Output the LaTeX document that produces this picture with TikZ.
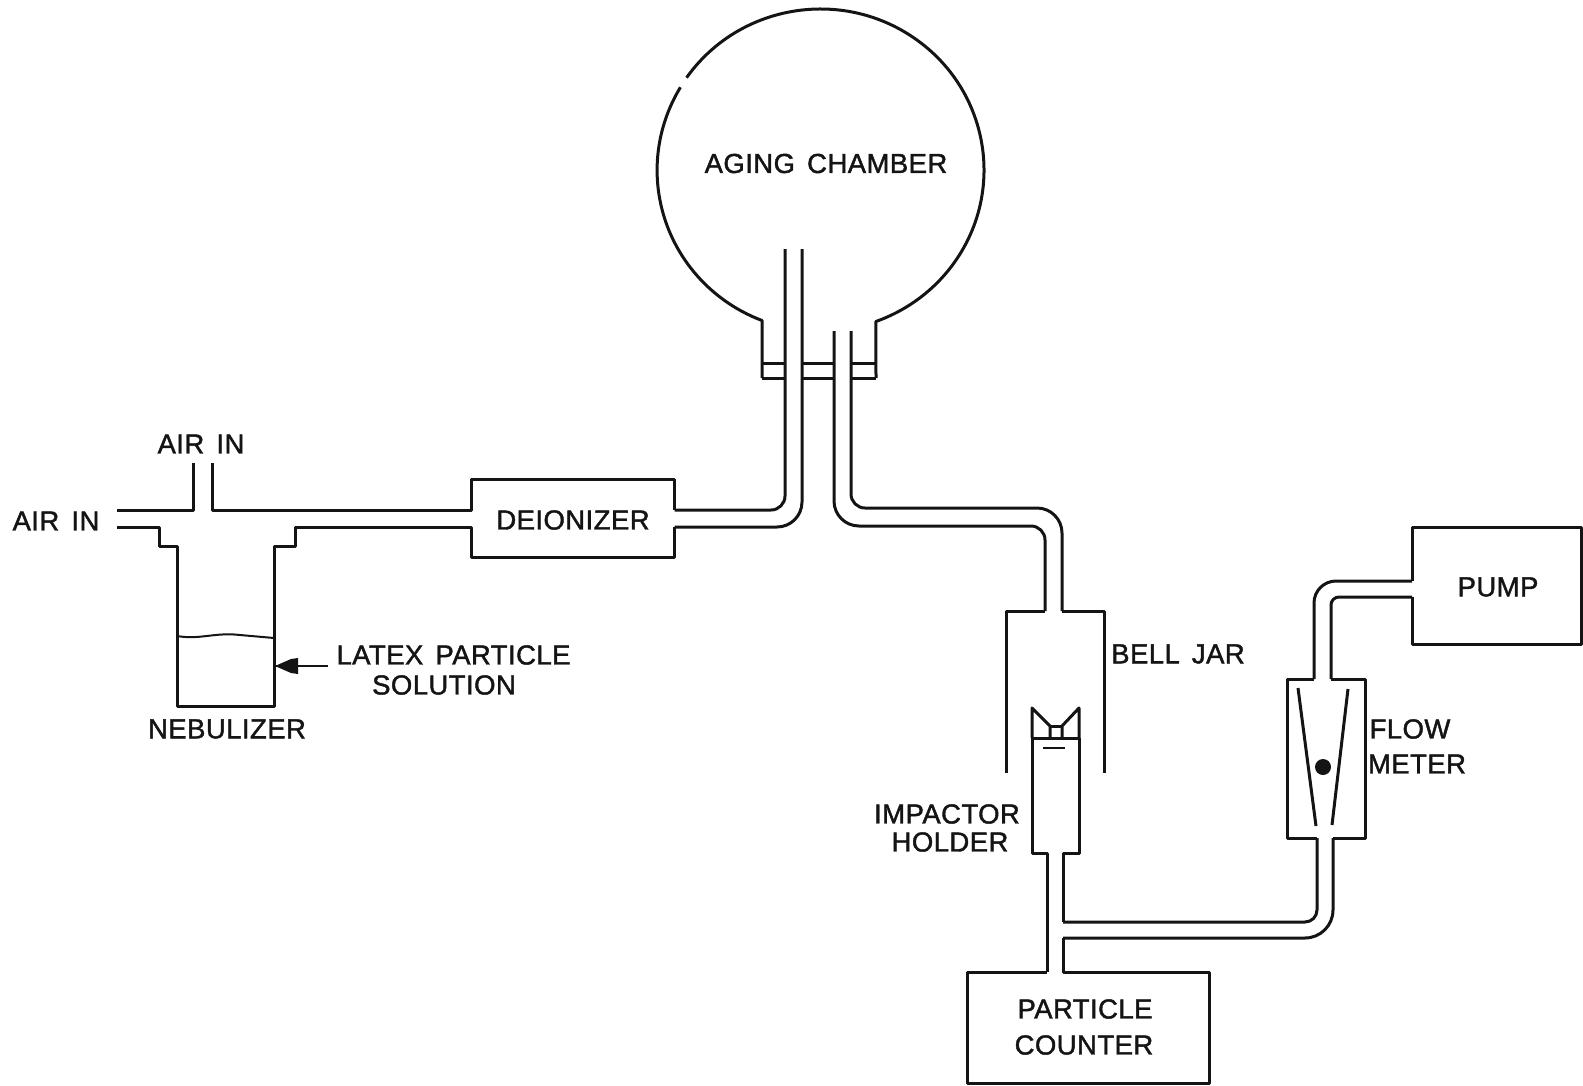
\documentclass[tikz,border=0pt]{standalone}
\usepackage{fontspec}
\newfontfamily\partfont{Liberation Sans}[FakeBold=1.5,LetterSpace=1.6,WordSpace=1.5]
\definecolor{ApparatusInk}{HTML}{141414}
\tikzset{
  pipe/.style={ApparatusInk,line width=3pt,line join=round},
  partlabel/.style={text=ApparatusInk,inner sep=0pt,font=\partfont\fontsize{27.5}{30}\selectfont}
}
\begin{document}
\begin{tikzpicture}[x=1pt,y=-1pt]
  \useasboundingbox (0,0) rectangle (1583,1085);
  % chamber, neck and flange
  \draw[pipe] (762,378) -- (762,320.5) arc[start angle=111,end angle=211,x radius=163.5,y radius=161];
  \draw[pipe] (820.5,170) ++(215:163.5 and 161) arc[start angle=215,end angle=430.2,x radius=163.5,y radius=161] -- (876,378);
  \draw[pipe] (762,363) -- (785,363) (762,378) -- (785,378);
  \draw[pipe] (802,363) -- (834,363) (802,378) -- (834,378);
  \draw[pipe] (851,363) -- (876,363) (851,378) -- (876,378);
  % inlet side
  \draw[pipe] (117,510) -- (193,510) -- (193,463);
  \draw[pipe] (212,463) -- (212,510) -- (471.5,510) -- (471.5,479) -- (674.5,479) -- (674.5,510);
  \draw[pipe] (117,527) -- (159,527) -- (159,546) -- (177,546) -- (177,706) -- (274,706) -- (274,546) -- (295,546) -- (295,527) -- (471.5,527) -- (471.5,557) -- (674.5,557) -- (674.5,527);
  \draw[ApparatusInk,line width=2pt] (177,636) .. controls (200,640) and (215,632) .. (240,635) -- (274,638);
  \draw[pipe,rounded corners=14pt] (674.5,510) -- (785,510) -- (785,249);
  \draw[pipe,rounded corners=25pt] (674.5,527) -- (802,527) -- (802,249);
  \coordinate (vessel) at (275,666);
  \coordinate (feed) at (328,666);
  \draw[ApparatusInk,line width=1.5pt] (feed) -- (vessel);
  \fill[ApparatusInk] (vessel) -- (291,659) -- (298,658) -- (298,674) -- (291,673) -- cycle;
  % outlet side
  \draw[pipe,rounded corners=25pt] (834,331) -- (834,526) -- (940,526);
  \draw[pipe,rounded corners=14pt] (940,526) -- (1045,526) -- (1045,611);
  \draw[pipe,rounded corners=14pt] (851,331) -- (851,508) -- (950,508);
  \draw[pipe,rounded corners=25pt] (950,508) -- (1062,508) -- (1062,611);
  \draw[pipe] (1045,611) -- (1006,611) -- (1006,773);
  \draw[pipe] (1062,611) -- (1104,611) -- (1104,773);
  % impactor holder
  \draw[pipe] (1032,738) -- (1032,708) -- (1050,726) -- (1050,738);
  \draw[pipe] (1079,738) -- (1079,708) -- (1062,726) -- (1062,738);
  \draw[pipe] (1050,726) -- (1062,726) (1032,738) -- (1079,738);
  \draw[ApparatusInk,line width=1.8pt] (1043,748) -- (1065,748);
  \draw[pipe] (1047,972) -- (1047,853) -- (1032,853) -- (1032,738);
  \draw[pipe] (1079,738) -- (1079,853) -- (1063,853) -- (1063,922);
  \draw[pipe,rounded corners=12pt] (1063,922) -- (1317,922) -- (1317,838);
  \draw[pipe,rounded corners=28pt] (1063,938) -- (1333,938) -- (1333,838);
  % particle counter
  \draw[pipe] (1047,972) -- (967,972) -- (967,1083.5) -- (1209,1083.5) -- (1209,972) -- (1063,972) -- (1063,938);
  % flow meter and pump
  \draw[pipe] (1317,838) -- (1287,838) -- (1287,679) -- (1314,679);
  \draw[pipe] (1333,838) -- (1365,838) -- (1365,679) -- (1331,679);
  \draw[pipe] (1298,688) -- (1316,826) (1348,689) -- (1332,825);
  \fill[ApparatusInk] (1323,767) circle (8);
  \draw[pipe,rounded corners=22pt] (1314,679) -- (1314,581) -- (1412,581);
  \draw[pipe,rounded corners=8pt] (1331,679) -- (1331,597) -- (1412,597);
  \draw[pipe] (1412,581) -- (1412,527) -- (1581,527) -- (1581,644) -- (1412,644) -- (1412,597);
  % labels
  \node[partlabel] (chamberlabel) at (826,163.5) {AGING CHAMBER};
  \node[partlabel] (airtop) at (201,444) {AIR IN};
  \node[partlabel] (airleft) at (56,521) {AIR IN};
  \node[partlabel] (deionizer) at (573,520) {DEIONIZER};
  \node[partlabel] (latexlabel) at (453.5,655) {LATEX PARTICLE};
  \node[partlabel] (solutionlabel) at (444,685) {SOLUTION};
  \node[partlabel] (nebulizer) at (227,729) {NEBULIZER};
  \node[partlabel] (belljar) at (1178,654) {BELL JAR};
  \node[partlabel] (impactorlabel) at (947,814) {IMPACTOR};
  \node[partlabel] (holderlabel) at (950,842) {HOLDER};
  \node[partlabel] (particlelabel) at (1085,1009) {PARTICLE};
  \node[partlabel] (counterlabel) at (1084,1045) {COUNTER};
  \node[partlabel] (flowlabel) at (1410,729) {FLOW};
  \node[partlabel] (meterlabel) at (1417,764) {METER};
  \node[partlabel] (pump) at (1498,587) {PUMP};
\end{tikzpicture}
\end{document}
